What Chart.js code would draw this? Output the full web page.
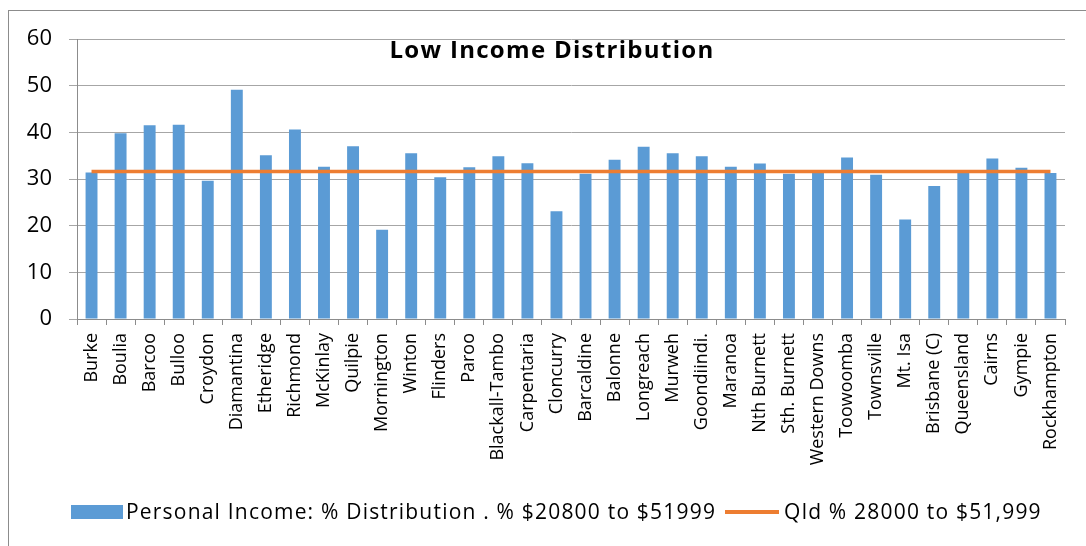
<!DOCTYPE html>
<html>
<head>
<meta charset="utf-8">
<title>Low Income Distribution</title>
<script src="https://cdn.jsdelivr.net/npm/chart.js@4.4.1/dist/chart.umd.min.js"></script>
<style>
    html, body { margin: 0; padding: 0; background: #fff; overflow: hidden; }
    #wrap { position: relative; width: 1086px; height: 546px; }
    #frame {
        position: absolute; left: 8px; top: 10px; width: 1200px; height: 700px;
        border: 1px solid #8c8c8c; box-sizing: border-box;
    }
    #chart { position: absolute; left: 0; top: 0; }
    #legend {
        position: absolute; left: 71px; top: 501px;
        display: flex; align-items: center; white-space: nowrap;
        font-family: 'Open Sans', 'DejaVu Sans', sans-serif;
        font-size: 21px; line-height: 21px; letter-spacing: 1.2px; color: #000;
    }
    #legend .item { display: flex; align-items: center; }
    #legend .item + .item { margin-left: 9px; }
    #legend .box { display: block; width: 52px; height: 14px; margin-right: 3px; }
    #legend .line { display: block; width: 54px; height: 4px; margin-right: 5px; }
</style>
</head>
<body>
<div id="wrap">
    <div id="frame"></div>
    <canvas id="chart" width="1086" height="546"></canvas>
    <div id="legend"></div>
</div>
<script>
// Shires / regions along the x axis
const regions = [
    'Burke', 'Boulia', 'Barcoo', 'Bulloo', 'Croydon', 'Diamantina', 'Etheridge',
    'Richmond', 'McKinlay', 'Quilpie', 'Mornington', 'Winton', 'Flinders', 'Paroo',
    'Blackall-Tambo', 'Carpentaria', 'Cloncurry', 'Barcaldine', 'Balonne', 'Longreach',
    'Murweh', 'Goondiindi.', 'Maranoa', 'Nth Burnett', 'Sth. Burnett', 'Western Downs',
    'Toowoomba', 'Townsville', 'Mt. Isa', 'Brisbane (C)', 'Queensland', 'Cairns',
    'Gympie', 'Rockhampton'
];

// % of persons with income $20800 to $51999
const lowIncomePct = [
    31.4, 39.8, 41.5, 41.6, 29.6, 49.1, 35.1,
    40.6, 32.6, 37.0, 19.1, 35.5, 30.4, 32.5,
    34.9, 33.4, 23.1, 31.1, 34.1, 36.9,
    35.5, 34.9, 32.6, 33.3, 31.1, 31.6,
    34.6, 30.9, 21.3, 28.5, 31.6, 34.4,
    32.4, 31.3
];

// Queensland benchmark, same value for every region
const qldPct = [
    31.6, 31.6, 31.6, 31.6, 31.6, 31.6, 31.6,
    31.6, 31.6, 31.6, 31.6, 31.6, 31.6, 31.6,
    31.6, 31.6, 31.6, 31.6, 31.6, 31.6,
    31.6, 31.6, 31.6, 31.6, 31.6, 31.6,
    31.6, 31.6, 31.6, 31.6, 31.6, 31.6,
    31.6, 31.6
];

const yTicks = [0, 10, 20, 30, 40, 50, 60];

const FONT = "'Open Sans', 'DejaVu Sans', sans-serif";

// Title sits inside the plot area, so draw it after everything else
const overlayTitle = {
    id: 'overlayTitle',
    afterDraw(chart, args, opts) {
        const ctx = chart.ctx;
        ctx.save();
        ctx.font = opts.font;
        ctx.letterSpacing = opts.letterSpacing;
        ctx.fillStyle = '#000';
        ctx.textAlign = 'center';
        ctx.textBaseline = 'alphabetic';
        ctx.fillText(opts.text, opts.x, opts.y);
        ctx.restore();
    }
};

// Legend rendered as HTML from the chart's own legend items
const htmlLegend = {
    id: 'htmlLegend',
    afterUpdate(chart, args, opts) {
        const container = document.getElementById(opts.containerID);
        container.innerHTML = '';
        const items = chart.options.plugins.legend.labels.generateLabels(chart)
            .sort((a, b) => a.datasetIndex - b.datasetIndex);
        items.forEach(item => {
            const isLine = chart.data.datasets[item.datasetIndex].type === 'line';
            const el = document.createElement('span');
            el.className = 'item';
            const swatch = document.createElement('span');
            swatch.className = isLine ? 'line' : 'box';
            swatch.style.background = isLine ? item.strokeStyle : item.fillStyle;
            const text = document.createElement('span');
            text.textContent = item.text;
            el.appendChild(swatch);
            el.appendChild(text);
            container.appendChild(el);
        });
    }
};

const ctx = document.getElementById('chart').getContext('2d');
new Chart(ctx, {
    type: 'bar',
    data: {
        labels: regions,
        datasets: [{
            type: 'bar',
            label: 'Personal Income: % Distribution . % $20800 to $51999',
            data: lowIncomePct,
            backgroundColor: '#5b9bd5',
            borderWidth: 0,
            barPercentage: 0.41,
            categoryPercentage: 1,
            order: 1
        }, {
            type: 'line',
            label: 'Qld % 28000 to $51,999',
            data: qldPct,
            borderColor: '#ed7d31',
            backgroundColor: '#ed7d31',
            borderWidth: 3.5,
            pointRadius: 0,
            fill: false,
            order: 0
        }]
    },
    options: {
        responsive: false,
        animation: false,
        layout: {
            padding: { top: 39, right: 21, left: 0, bottom: 47 }
        },
        plugins: {
            tooltip: { enabled: false },
            legend: { display: false },
            htmlLegend: { containerID: 'legend' },
            overlayTitle: {
                text: 'Low Income Distribution',
                font: `bold 24px ${FONT}`,
                letterSpacing: '1.3px',
                x: 552,
                y: 58
            }
        },
        scales: {
            x: {
                offset: true,
                grid: {
                    offset: true,
                    drawOnChartArea: false,
                    drawTicks: true,
                    tickLength: 6,
                    color: '#8c8c8c'
                },
                border: { color: '#8c8c8c' },
                ticks: {
                    autoSkip: false,
                    minRotation: 90,
                    maxRotation: 90,
                    padding: 8,
                    color: '#000',
                    font: { family: FONT, size: 18 }
                },
                afterFit(scale) { scale.height = 180; }
            },
            y: {
                min: 0,
                max: 60,
                afterBuildTicks(scale) {
                    scale.ticks = yTicks.map(v => ({ value: v }));
                },
                grid: {
                    color: '#a6a6a6',
                    tickLength: 8
                },
                border: { color: '#8c8c8c' },
                ticks: {
                    padding: 17,
                    color: '#000',
                    font: { family: FONT, size: 22 }
                },
                afterFit(scale) { scale.width = 77; }
            }
        }
    },
    plugins: [overlayTitle, htmlLegend]
});
</script>
</body>
</html>
